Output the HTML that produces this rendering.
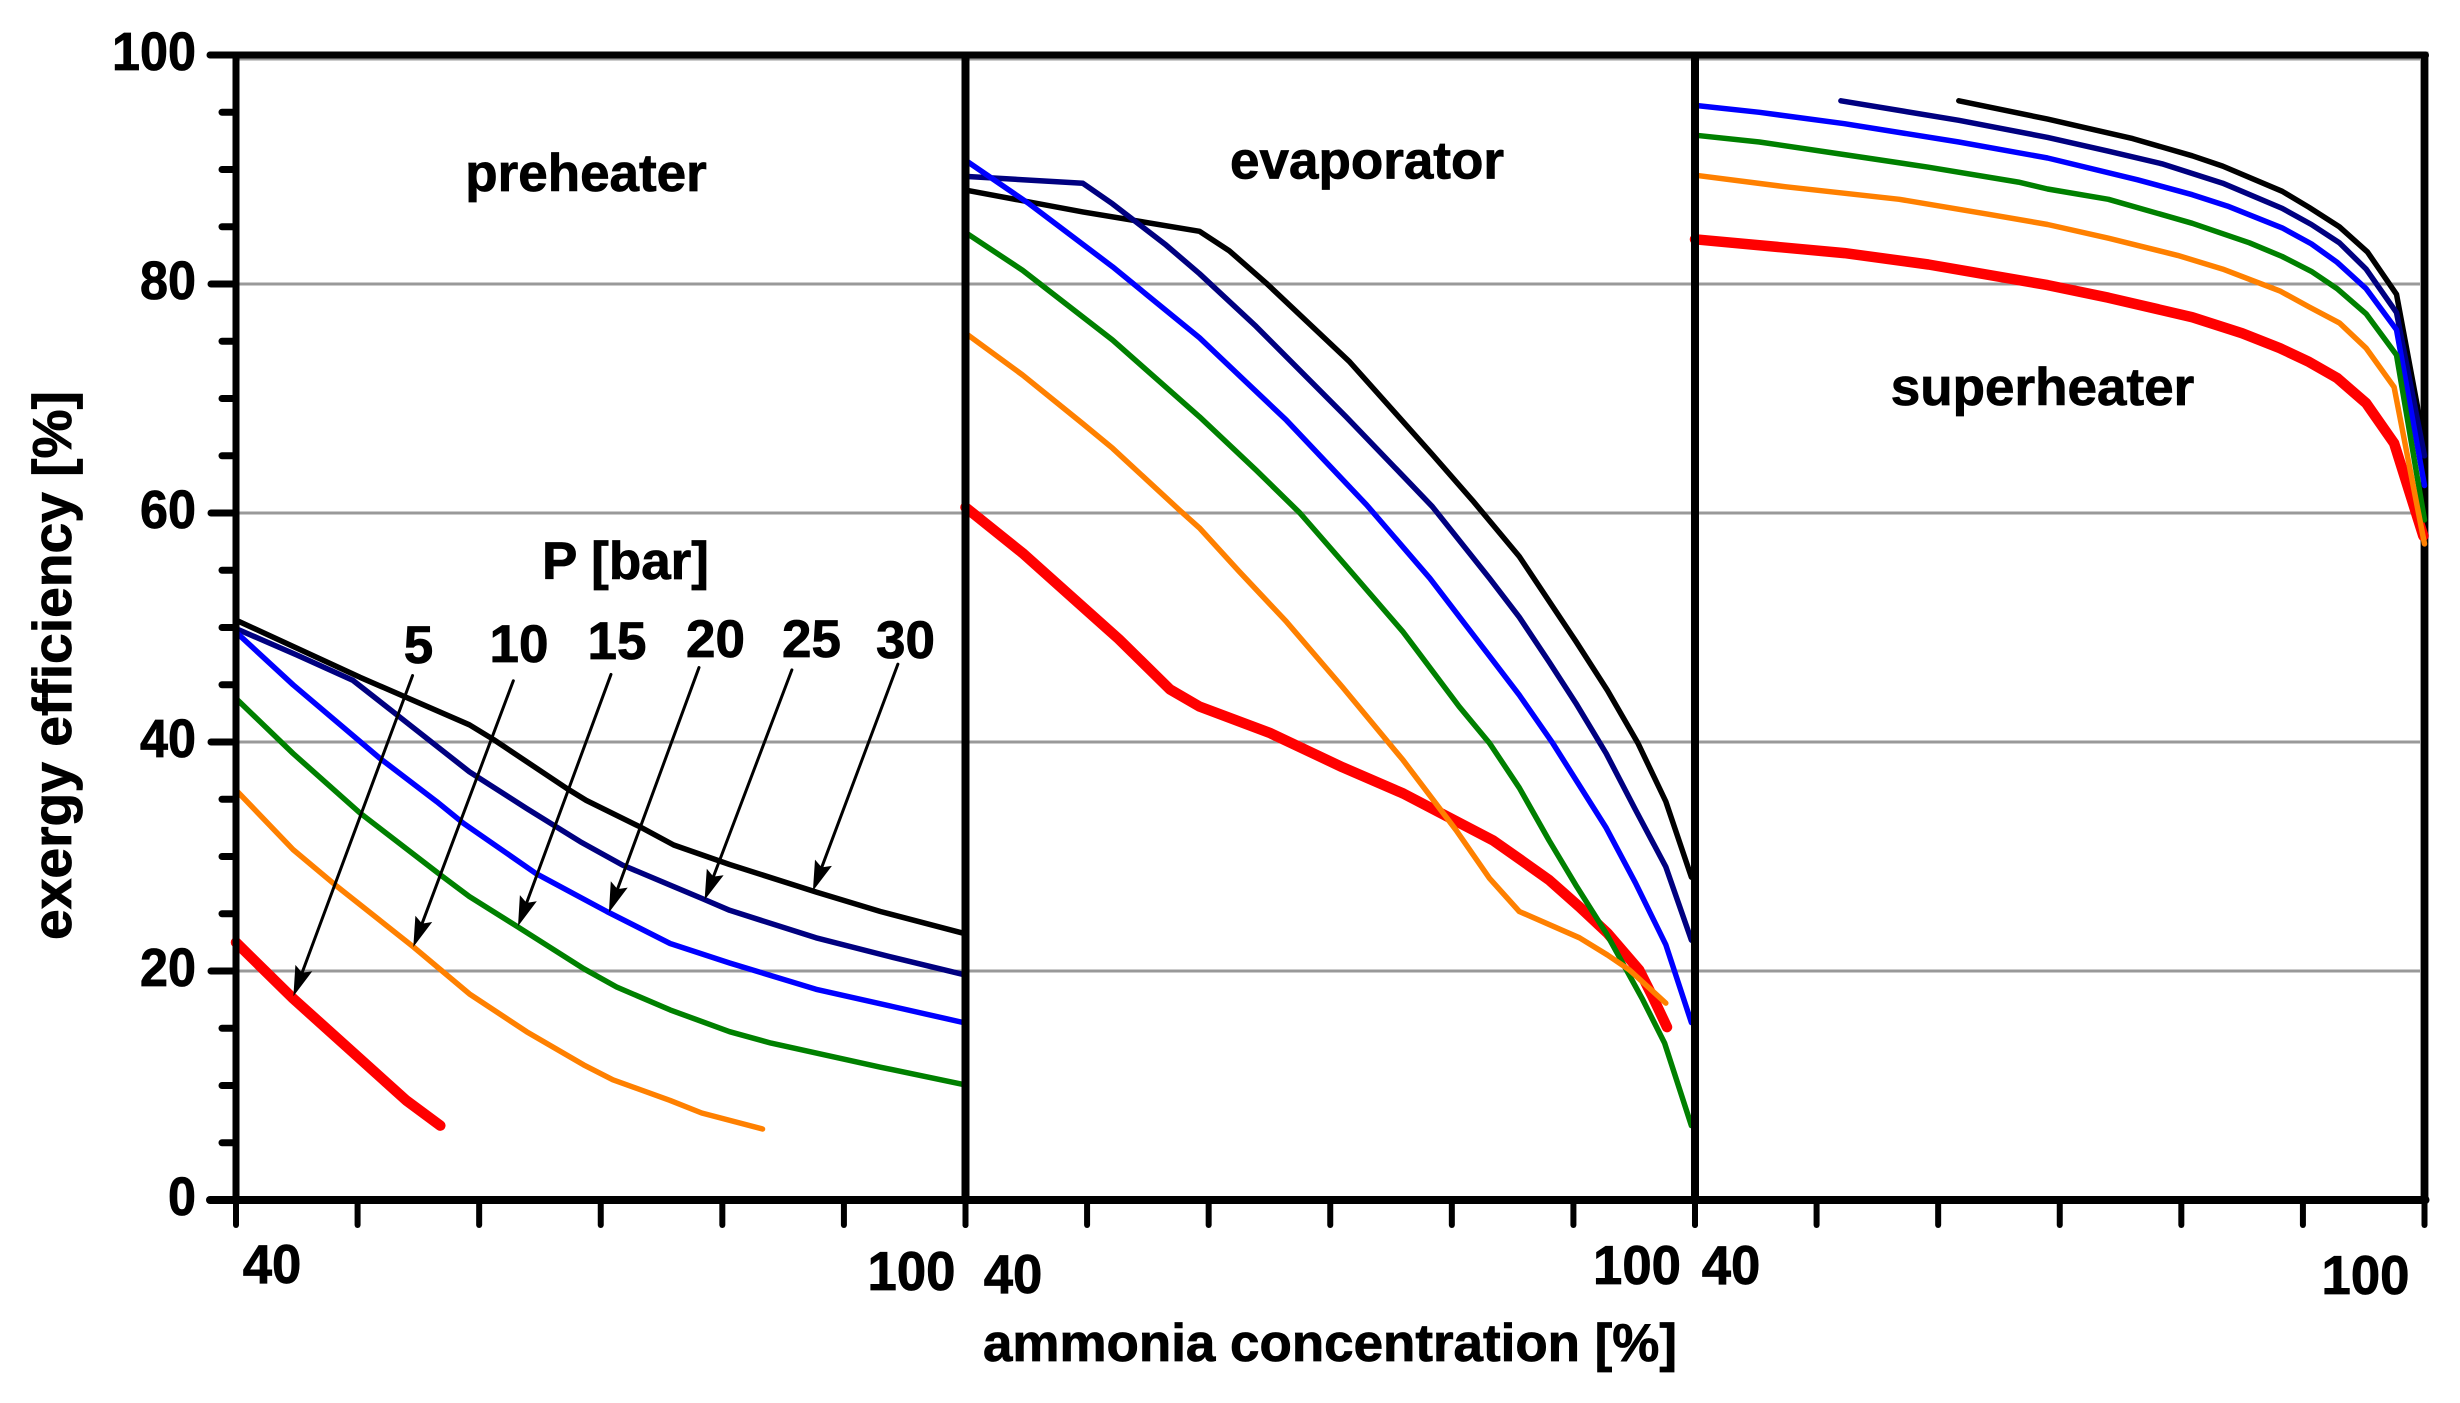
<!DOCTYPE html>
<html lang="en">
<head>
<meta charset="utf-8">
<title>Exergy efficiency vs ammonia concentration</title>
<style>
html,body{margin:0;padding:0;background:#fff;}
svg{display:block;}
text{font-family:"Liberation Sans",Arial,sans-serif;font-weight:bold;fill:#000;stroke:#000;stroke-width:0.8px;}
</style>
</head>
<body>
<svg id="chart" xmlns="http://www.w3.org/2000/svg" width="2460" height="1403" viewBox="0 0 2460 1403">
  <rect x="0" y="0" width="2460" height="1403" fill="#fff"/>
  <g id="grid"></g>
  <g id="frame-under"></g>
  <g id="series"></g>
  <g id="frame-over"></g>
  <g id="ticks"></g>
  <g id="arrows"></g>
  <g id="labels"></g>

  <text transform="translate(71,665.5) rotate(-90)" text-anchor="middle" font-size="55" textLength="549" lengthAdjust="spacingAndGlyphs">exergy efficiency [%]</text>
  <text x="1330" y="1361" text-anchor="middle" font-size="53" textLength="694" lengthAdjust="spacingAndGlyphs">ammonia concentration [%]</text>
  <text x="586" y="191" text-anchor="middle" font-size="53">preheater</text>
  <text x="1367" y="178.5" text-anchor="middle" font-size="53">evaporator</text>
  <text x="2042.5" y="405" text-anchor="middle" font-size="53">superheater</text>
  <text x="625.5" y="579" text-anchor="middle" font-size="53">P [bar]</text>
  <text x="418.5" y="663" text-anchor="middle" font-size="53">5</text>
  <text x="519" y="662" text-anchor="middle" font-size="53">10</text>
  <text x="617" y="659" text-anchor="middle" font-size="53">15</text>
  <text x="715.5" y="657" text-anchor="middle" font-size="53">20</text>
  <text x="811.5" y="657" text-anchor="middle" font-size="53">25</text>
  <text x="905.5" y="658" text-anchor="middle" font-size="53">30</text>
</svg>

<script>
// ---- tick labels and ticks ----
const yTickLabels = [0, 20, 40, 60, 80, 100];
const yMinorTicks = [5, 10, 15, 25, 30, 35, 45, 50, 55, 65, 70, 75, 85, 90, 95];
const xTickValues = [40, 50, 60, 70, 80, 90, 100];
const gridValues = [20, 40, 60, 80];

// ---- preheater ----
const preP30x = [40, 45, 50.2, 59.2, 61.2, 67.2, 68.8, 73.2, 76, 80.6, 87.7, 93, 99.8];
const preP30y = [50.65, 48.2, 45.65, 41.5, 40.2, 35.95, 34.9, 32.6, 31, 29.3, 26.9, 25.2, 23.3];
const preP25x = [40, 45, 49.6, 53.2, 59.2, 63.9, 68.3, 71.8, 78.4, 80.6, 87.7, 94, 99.8];
const preP25y = [49.9, 47.6, 45.4, 42.4, 37.4, 34.2, 31.3, 29.25, 26.3, 25.3, 22.9, 21.2, 19.7];
const preP20x = [40, 44.7, 51.8, 56.5, 58.7, 64.7, 70.5, 75.7, 80.6, 87.7, 94, 99.8];
const preP20y = [49.6, 45, 38.6, 34.8, 32.9, 28.5, 25.2, 22.4, 20.7, 18.4, 16.9, 15.5];
const preP15x = [40, 44.7, 50.2, 56.8, 59.2, 63.1, 68.6, 71.3, 75.7, 80.6, 84, 93, 99.8];
const preP15y = [43.8, 39, 33.8, 28.4, 26.5, 23.9, 20.2, 18.6, 16.6, 14.7, 13.7, 11.6, 10.1];
const preP10x = [40, 44.7, 48.3, 54.6, 59.2, 63.9, 68.6, 71, 75.7, 78.3, 83.3];
const preP10y = [35.8, 30.6, 27.4, 22.1, 18, 14.7, 11.8, 10.5, 8.7, 7.6, 6.2];
const preP5x = [40, 44.7, 49.4, 54, 56.8];
const preP5y = [22.5, 17.6, 13.1, 8.7, 6.5];

// ---- evaporator ----
const evaP30x = [40, 49.65, 59.25, 61.7, 64.75, 71.6, 78.4, 81.7, 85.55, 90.2, 92.8, 95.3, 97.6, 99.7];
const evaP30y = [88.2, 86.3, 84.6, 82.9, 80.06, 73.2, 65.1, 61.1, 56.2, 48.8, 44.5, 39.9, 34.8, 28.2];
const evaP25x = [40, 49.65, 52.1, 56.5, 59.25, 63.9, 71.3, 76.2, 78.4, 83.1, 85.55, 88, 90.2, 92.7, 95.1, 97.6, 99.7];
const evaP25y = [89.4, 88.8, 87, 83.4, 80.9, 76.3, 68.4, 63, 60.55, 54.3, 50.9, 47, 43.4, 39, 34.1, 29.1, 22.7];
const evaP20x = [40, 45.25, 52.1, 59.25, 66.4, 73, 78.2, 83.1, 85.55, 88.3, 92.7, 95.1, 97.6, 99.7];
const evaP20y = [90.8, 87, 81.5, 75.3, 68.1, 60.7, 54.3, 47.5, 44.1, 39.9, 32.5, 27.7, 22.3, 15.5];
const evaP15x = [40, 44.7, 52.1, 59.25, 63.9, 67.5, 71.2, 76, 80.6, 83.1, 85.55, 88, 90.2, 92.7, 95.7, 97.5, 99.7];
const evaP15y = [84.5, 81.2, 75.1, 68.4, 63.75, 60, 55.5, 49.6, 43.1, 39.9, 36, 31.4, 27.5, 23.3, 17.5, 13.7, 6.5];
const evaP10x = [40, 44.7, 49.65, 52.1, 57.6, 59.24, 62.5, 66.4, 71, 76, 80.35, 83.1, 85.55, 90.5, 92.8, 94.6, 97.6];
const evaP10y = [75.7, 72.05, 67.8, 65.65, 60.25, 58.7, 54.9, 50.5, 44.8, 38.4, 32.3, 28.1, 25.2, 22.9, 21.4, 20.1, 17.2];
const evaP5x = [40, 44.7, 49.65, 52.6, 56.8, 59.24, 65, 71, 76, 83.4, 85.55, 88, 90.5, 92.8, 95.4, 96.5, 97.7];
const evaP5y = [60.5, 56.5, 51.8, 49, 44.6, 43.1, 40.8, 37.8, 35.5, 31.4, 29.8, 27.95, 25.6, 23.3, 20.1, 17.8, 15.1];

// ---- superheater ----
const supP30x = [61.7, 69, 76, 80.9, 83.4, 88.3, 90.5, 93, 95.3, 97.7, 100];
const supP30y = [96, 94.4, 92.7, 91.2, 90.3, 88.1, 86.7, 85, 82.8, 79.1, 66];
const supP25x = [52, 61.7, 69, 74, 78.4, 83.4, 88.3, 90.7, 93, 95.2, 97.7, 100];
const supP25y = [96, 94.3, 92.8, 91.6, 90.5, 88.8, 86.6, 85.2, 83.6, 81.3, 77.5, 65];
const supP20x = [40, 45.3, 52.3, 61.7, 69, 76.4, 80.9, 83.8, 88.3, 90.7, 92.8, 95.2, 97.7, 100];
const supP20y = [95.6, 95, 94, 92.4, 91, 89.1, 87.8, 86.8, 84.9, 83.5, 81.9, 79.6, 76, 62.4];
const supP15x = [40, 45.3, 52.3, 59.2, 66.6, 69, 74, 80.9, 85.6, 88.3, 90.7, 92.8, 95.2, 97.7, 100];
const supP15y = [93, 92.4, 91.3, 90.2, 88.9, 88.3, 87.4, 85.3, 83.6, 82.4, 81.1, 79.6, 77.4, 73.8, 59.4];
const supP10x = [40, 47.4, 56.8, 64.1, 69, 74, 79.7, 83.4, 88.1, 90.5, 93, 95.2, 97.5, 100];
const supP10y = [89.5, 88.5, 87.4, 86.1, 85.2, 84, 82.5, 81.3, 79.4, 78, 76.6, 74.4, 71, 57.3];
const supP5x = [40, 52.3, 59.2, 69, 74, 80.9, 85, 88.1, 90.5, 92.8, 95.2, 97.5, 99.9];
const supP5y = [83.9, 82.7, 81.7, 79.9, 78.8, 77.1, 75.7, 74.4, 73.2, 71.8, 69.6, 66.1, 58];

// ---- pressure arrows (data units of the preheater panel) ----
const arrowPressures = [5, 10, 15, 20, 25, 30];
const arrowTailX = [54.52, 62.81, 70.84, 78.08, 85.72, 94.44];
const arrowTailY = [45.8, 45.35, 45.9, 46.5, 46.3, 46.8];
const arrowTipX = [44.72, 54.58, 63.19, 70.67, 78.54, 87.45];
const arrowTipY = [17.8, 22.1, 23.9, 25.1, 26.2, 27];

// ---- draw ----
const panelNames = ['preheater', 'evaporator', 'superheater'];
const NS = 'http://www.w3.org/2000/svg';
const PANEL_LEFT = 236, PANEL_W = 729.5, Y0 = 1200, Y_UNIT = 11.45;
function xAxis(panel, v) { return PANEL_LEFT + panel * PANEL_W + (v - 40) * PANEL_W / 60; }
function yAxis(v) { return Y0 - v * Y_UNIT; }
function make(tag, parent) {
  const el = document.createElementNS(NS, tag);
  document.getElementById(parent).appendChild(el);
  return el;
}
function stroke(el, x1, y1, x2, y2, color, width, cap) {
  el.setAttribute('x1', x1);
  el.setAttribute('y1', y1);
  el.setAttribute('x2', x2);
  el.setAttribute('y2', y2);
  el.setAttribute('stroke', color);
  el.setAttribute('stroke-width', width);
  el.setAttribute('stroke-linecap', cap);
}

// gridlines
gridValues.forEach(function (v) {
  const el = make('line', 'grid');
  
  
  stroke(el, xAxis(0, 40), yAxis(v), xAxis(2, 100), yAxis(v), '#999999', 3, 'butt');
});

// frame halo, top, right
const haloTop = make('line', 'frame-under');


stroke(haloTop, xAxis(0, 40), yAxis(100) + 1, xAxis(2, 100) + 4, yAxis(100) + 1, '#999999', 9, 'butt');
const haloRight = make('line', 'frame-under');


stroke(haloRight, xAxis(2, 100), yAxis(100), xAxis(2, 100), yAxis(0), '#999999', 9, 'butt');
const topAxis = make('line', 'frame-under');


stroke(topAxis, 210, yAxis(100), xAxis(2, 100) + 1, yAxis(100), '#000', 7, 'round');
const rightAxis = make('line', 'frame-under');


stroke(rightAxis, xAxis(2, 100), yAxis(100), xAxis(2, 100), yAxis(0), '#000', 7, 'round');

// series: red first, orange last, matching the overlap order in the figure
const seriesStyles = [
  { p: 5, color: '#ff0000', width: 10.5 },
  { p: 30, color: '#000000', width: 5.5 },
  { p: 25, color: '#000080', width: 5.5 },
  { p: 20, color: '#0000ff', width: 5.5 },
  { p: 15, color: '#008000', width: 5.5 },
  { p: 10, color: '#ff8000', width: 5.5 }
];
const seriesData = [
  { 5: [preP5x, preP5y], 10: [preP10x, preP10y], 15: [preP15x, preP15y], 20: [preP20x, preP20y], 25: [preP25x, preP25y], 30: [preP30x, preP30y] },
  { 5: [evaP5x, evaP5y], 10: [evaP10x, evaP10y], 15: [evaP15x, evaP15y], 20: [evaP20x, evaP20y], 25: [evaP25x, evaP25y], 30: [evaP30x, evaP30y] },
  { 5: [supP5x, supP5y], 10: [supP10x, supP10y], 15: [supP15x, supP15y], 20: [supP20x, supP20y], 25: [supP25x, supP25y], 30: [supP30x, supP30y] }
];
seriesData.forEach(function (panelData, panel) {
  seriesStyles.forEach(function (style) {
    const xsArr = panelData[style.p][0];
    const ysArr = panelData[style.p][1];
    const pts = xsArr.map(function (x, i) {
      return xAxis(panel, x).toFixed(1) + ',' + yAxis(ysArr[i]).toFixed(1);
    }).join(' ');
    const el = make('polyline', 'series');
    
    
    el.setAttribute('points', pts);
    el.setAttribute('fill', 'none');
    el.setAttribute('stroke', style.color);
    el.setAttribute('stroke-width', style.width);
    el.setAttribute('stroke-linejoin', 'round');
    el.setAttribute('stroke-linecap', 'round');
  });
});

// left spine, dividers, bottom axis drawn over the series
const leftAxis = make('line', 'frame-over');


stroke(leftAxis, xAxis(0, 40), yAxis(100), xAxis(0, 40), yAxis(0), '#000', 7, 'butt');
[1, 2].forEach(function (panel) {
  const el = make('line', 'frame-over');
  
  
  stroke(el, xAxis(panel, 40), yAxis(100), xAxis(panel, 40), yAxis(0), '#000', 8, 'butt');
});
const bottomAxis = make('line', 'frame-over');


stroke(bottomAxis, 210, yAxis(0), xAxis(2, 100) + 1, yAxis(0), '#000', 8, 'round');

// y ticks
yTickLabels.forEach(function (v) {
  const el = make('line', 'ticks');
  
  
  stroke(el, 211, yAxis(v), xAxis(0, 40), yAxis(v), '#000', 7, 'round');
});
yMinorTicks.forEach(function (v) {
  const el = make('line', 'ticks');
  
  
  stroke(el, 222, yAxis(v), xAxis(0, 40), yAxis(v), '#000', 7, 'round');
});

// x ticks
[0, 1, 2].forEach(function (panel) {
  xTickValues.forEach(function (v) {
    const el = make('line', 'ticks');
    
    
    stroke(el, xAxis(panel, v), yAxis(0), xAxis(panel, v), 1225, '#000', 6, 'round');
  });
});

// y tick labels
yTickLabels.forEach(function (v) {
  const el = make('text', 'labels');
  
  
  el.setAttribute('x', 196);
  el.setAttribute('y', yAxis(v) + 15);
  el.setAttribute('text-anchor', 'end');
  el.setAttribute('font-size', 54);
  el.setAttribute('textLength', String(v).length * 28);
  el.setAttribute('lengthAdjust', 'spacingAndGlyphs');
  el.textContent = v;
});

// x end labels: hand-placed in the original figure
const xEndLabels = ['40', '100', '40', '100', '40', '100'];
const xEndNudges = [[36, 83], [-54, 90], [47.5, 93], [-58, 84], [36, 84], [-59, 94]];
xEndLabels.forEach(function (label, i) {
  const panel = Math.floor(i / 2);
  const base = i % 2 === 0 ? 40 : 100;
  const el = make('text', 'labels');
  
  
  el.setAttribute('x', xAxis(panel, base) + xEndNudges[i][0]);
  el.setAttribute('y', yAxis(0) + xEndNudges[i][1]);
  el.setAttribute('text-anchor', 'middle');
  el.setAttribute('font-size', 55);
  el.setAttribute('textLength', label.length * 29.3);
  el.setAttribute('lengthAdjust', 'spacingAndGlyphs');
  el.textContent = label;
});

// arrows
arrowPressures.forEach(function (p, i) {
  const tx = xAxis(0, arrowTailX[i]), ty = yAxis(arrowTailY[i]);
  const hx = xAxis(0, arrowTipX[i]), hy = yAxis(arrowTipY[i]);
  const dx = hx - tx, dy = hy - ty, len = Math.sqrt(dx * dx + dy * dy);
  const ux = dx / len, uy = dy / len, nx = -uy, ny = ux;
  const L = 30, W = 9, N = 25;
  const shaft = make('line', 'arrows');
  
  
  stroke(shaft, tx, ty, hx - ux * N, hy - uy * N, '#000', 3, 'round');
  const head = make('polygon', 'arrows');
  
  
  head.setAttribute('fill', '#000');
  head.setAttribute('points', [
    [hx, hy],
    [hx - ux * L + nx * W, hy - uy * L + ny * W],
    [hx - ux * N, hy - uy * N],
    [hx - ux * L - nx * W, hy - uy * L - ny * W]
  ].map(function (q) { return q[0].toFixed(1) + ',' + q[1].toFixed(1); }).join(' '));
});
</script>
</body>
</html>
